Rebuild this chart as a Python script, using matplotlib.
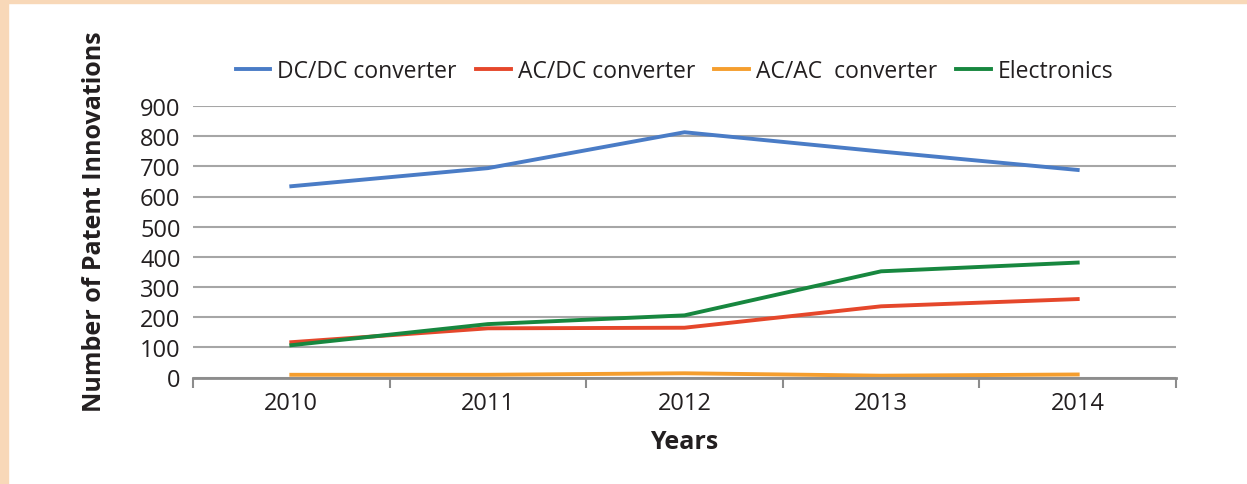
import matplotlib.pyplot as plt
from matplotlib.patches import Rectangle
import numpy as np

plt.rcParams['font.family'] = ['Open Sans', 'DejaVu Sans']

# data
years = ['2010', '2011', '2012', '2013', '2014']
dcdc = [634, 694, 813, 749, 688]
acdc = [117, 163, 165, 236, 260]
acac = [9, 9, 14, 6, 10]
electronics = [107, 177, 206, 352, 381]

fig = plt.figure(figsize=(12.47, 4.85), dpi=100)

# peach frame on left and top
fig.patches.append(Rectangle((0, 0), 8 / 1247, 1, transform=fig.transFigure,
                             color='#F8D8B8', zorder=0))
fig.patches.append(Rectangle((0, 1 - 4 / 485), 1, 4 / 485, transform=fig.transFigure,
                             color='#F8D8B8', zorder=0))

ax = fig.add_axes([193 / 1247, (485 - 378.5) / 485, (1176 - 193) / 1247, (378.5 - 107) / 485])

x = np.arange(len(years))
ax.plot(x, dcdc, color='#4A7CC6', lw=2.8, label='DC/DC converter')
ax.plot(x, acdc, color='#E5472B', lw=2.8, label='AC/DC converter')
ax.plot(x, acac, color='#F59E2E', lw=2.8, label='AC/AC  converter')
ax.plot(x, electronics, color='#17873F', lw=2.8, label='Electronics')

ax.set_xlim(-0.5, len(years) - 0.5)
ax.set_ylim(0, 900)
ax.set_yticks(range(0, 901, 100))
ax.yaxis.grid(True, color='#A6A6A6', lw=1.5)
ax.set_axisbelow(True)

# boundary ticks, labels centred on categories
ax.set_xticks(np.arange(-0.5, len(years), 1))
ax.set_xticklabels([])
ax.set_xticks(x, minor=True)
ax.set_xticklabels(years, minor=True)
ax.tick_params(axis='x', which='major', length=7, width=1.5, color='#8C8C8C', direction='out')
ax.tick_params(axis='x', which='minor', length=0, labelsize=17, pad=10, colors='#231F20')
ax.tick_params(axis='y', length=0, labelsize=17, pad=9, colors='#231F20')

for s in ['top', 'right', 'left']:
    ax.spines[s].set_visible(False)
ax.spines['bottom'].set_color('#8C8C8C')
ax.spines['bottom'].set_linewidth(2)

ax.set_xlabel('Years', fontsize=18, fontweight='bold', color='#231F20', labelpad=10)
fig.text(95 / 1247, 1 - 222 / 485, 'Number of Patent Innovations', rotation=90, fontsize=18,
         fontweight='bold', color='#231F20', ha='center', va='center')

ax.legend(loc='center', bbox_to_anchor=(0.49, 1.13), ncol=4, frameon=False,
          fontsize=16.5, handlelength=1.5, handletextpad=0.3, columnspacing=0.85,
          labelcolor='#231F20')

fig.savefig('out.png', dpi=100)
